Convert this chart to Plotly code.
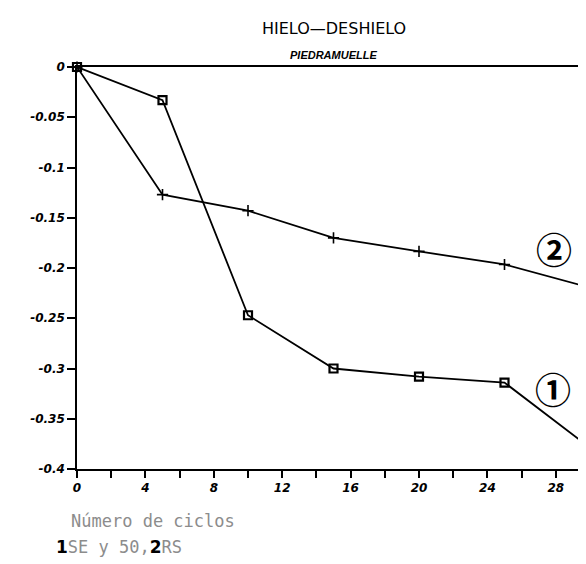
import plotly.graph_objects as go

# ---- data ----
cycles = [0, 5, 10, 15, 20, 25, 30]
serie_1 = [0, -0.033, -0.247, -0.300, -0.308, -0.314, -0.379]
serie_2 = [0, -0.127, -0.143, -0.170, -0.1835, -0.1965, -0.2195]
x_tick_vals = [0, 4, 8, 12, 16, 20, 24, 28]
x_tick_text = ["0", "4", "8", "12", "16", "20", "24", "28"]
y_tick_vals = [0, -0.05, -0.1, -0.15, -0.2, -0.25, -0.3, -0.35, -0.4]
y_tick_text = ["0", "-0.05", "-0.1", "-0.15", "-0.2", "-0.25", "-0.3", "-0.35", "-0.4"]
title_text = "HIELO—DESHIELO"
subtitle_text = "PIEDRAMUELLE"
x_label = "Número de ciclos"
series_labels = ["①", "②"]

W, H = 586, 564
ML, MR, MT, MB = 69, 2, 59, 103
PW, PH = W - ML - MR, H - MT - MB

def px(xp):
    return (xp - ML) / PW

def py(yp):
    return (H - MB - yp) / PH

tick_font = dict(family="DejaVu Sans", size=12, color="black", weight="bold", style="italic")
mono = "DejaVu Sans Mono"
bold_span = "<span style='font-family:DejaVu Sans;font-weight:bold;font-size:17px;color:black'>{}</span>"

fig = go.Figure()
fig.add_trace(go.Scatter(
    x=cycles, y=serie_1, mode="lines+markers", name="1",
    line=dict(color="black", width=1.8),
    marker=dict(symbol="square-open", size=8, color="black", line=dict(width=2.2, color="black")),
    cliponaxis=False, showlegend=False))
fig.add_trace(go.Scatter(
    x=cycles, y=serie_2, mode="lines+markers", name="2",
    line=dict(color="black", width=1.8),
    marker=dict(symbol="cross-thin", size=8, color="black", line=dict(width=1.6, color="black")),
    cliponaxis=False, showlegend=False))

annotations = [
    dict(text=title_text, x=0.5, y=py(20), xref="paper", yref="paper", showarrow=False,
         xanchor="center", yanchor="middle",
         font=dict(family="DejaVu Sans", size=16, color="black")),
    dict(text=subtitle_text, x=0.5, y=py(47), xref="paper", yref="paper", showarrow=False,
         xanchor="center", yanchor="middle",
         font=dict(family="Liberation Sans", size=11, color="black", weight="bold", style="italic")),
    dict(text=series_labels[1], x=27.9, y=-0.1796, xref="x", yref="y", showarrow=False,
         xanchor="center", yanchor="middle",
         font=dict(family="Noto Sans CJK JP", size=36, color="black", weight="bold")),
    dict(text=series_labels[0], x=27.85, y=-0.319, xref="x", yref="y", showarrow=False,
         xanchor="center", yanchor="middle",
         font=dict(family="Noto Sans CJK JP", size=36, color="black", weight="bold")),
    dict(text=x_label, x=px(61), y=py(513), xref="paper", yref="paper", showarrow=False,
         xanchor="left", yanchor="middle",
         font=dict(family=mono, size=17, color="#8c8c8c")),
    dict(text=bold_span.format("1") + "SE y 50," + bold_span.format("2") + "RS",
         x=px(46), y=py(539), xref="paper", yref="paper", showarrow=False,
         xanchor="left", yanchor="middle",
         font=dict(family=mono, size=17, color="#8c8c8c")),
]

fig.update_layout(
    width=W, height=H,
    margin=dict(l=ML, r=MR, t=MT, b=MB),
    paper_bgcolor="white", plot_bgcolor="white",
    annotations=annotations,
    xaxis=dict(range=[0, 30], tickvals=x_tick_vals, ticktext=x_tick_text,
               ticks="outside", ticklen=7, tickwidth=1.5, tickcolor="black",
               minor=dict(dtick=2, tick0=0, ticks="outside", ticklen=7, tickwidth=1.5, tickcolor="black", showgrid=False),
               showline=True, linecolor="black", linewidth=1.6, mirror=True,
               showgrid=False, zeroline=False, tickfont=tick_font),
    yaxis=dict(range=[-0.4, 0], tickvals=y_tick_vals, ticktext=y_tick_text,
               ticks="outside", ticklen=8, tickwidth=1.5, tickcolor="black",
               showline=True, linecolor="black", linewidth=1.6, mirror=True,
               showgrid=False, zeroline=False, tickfont=tick_font),
)

fig.write_html("out.html")
